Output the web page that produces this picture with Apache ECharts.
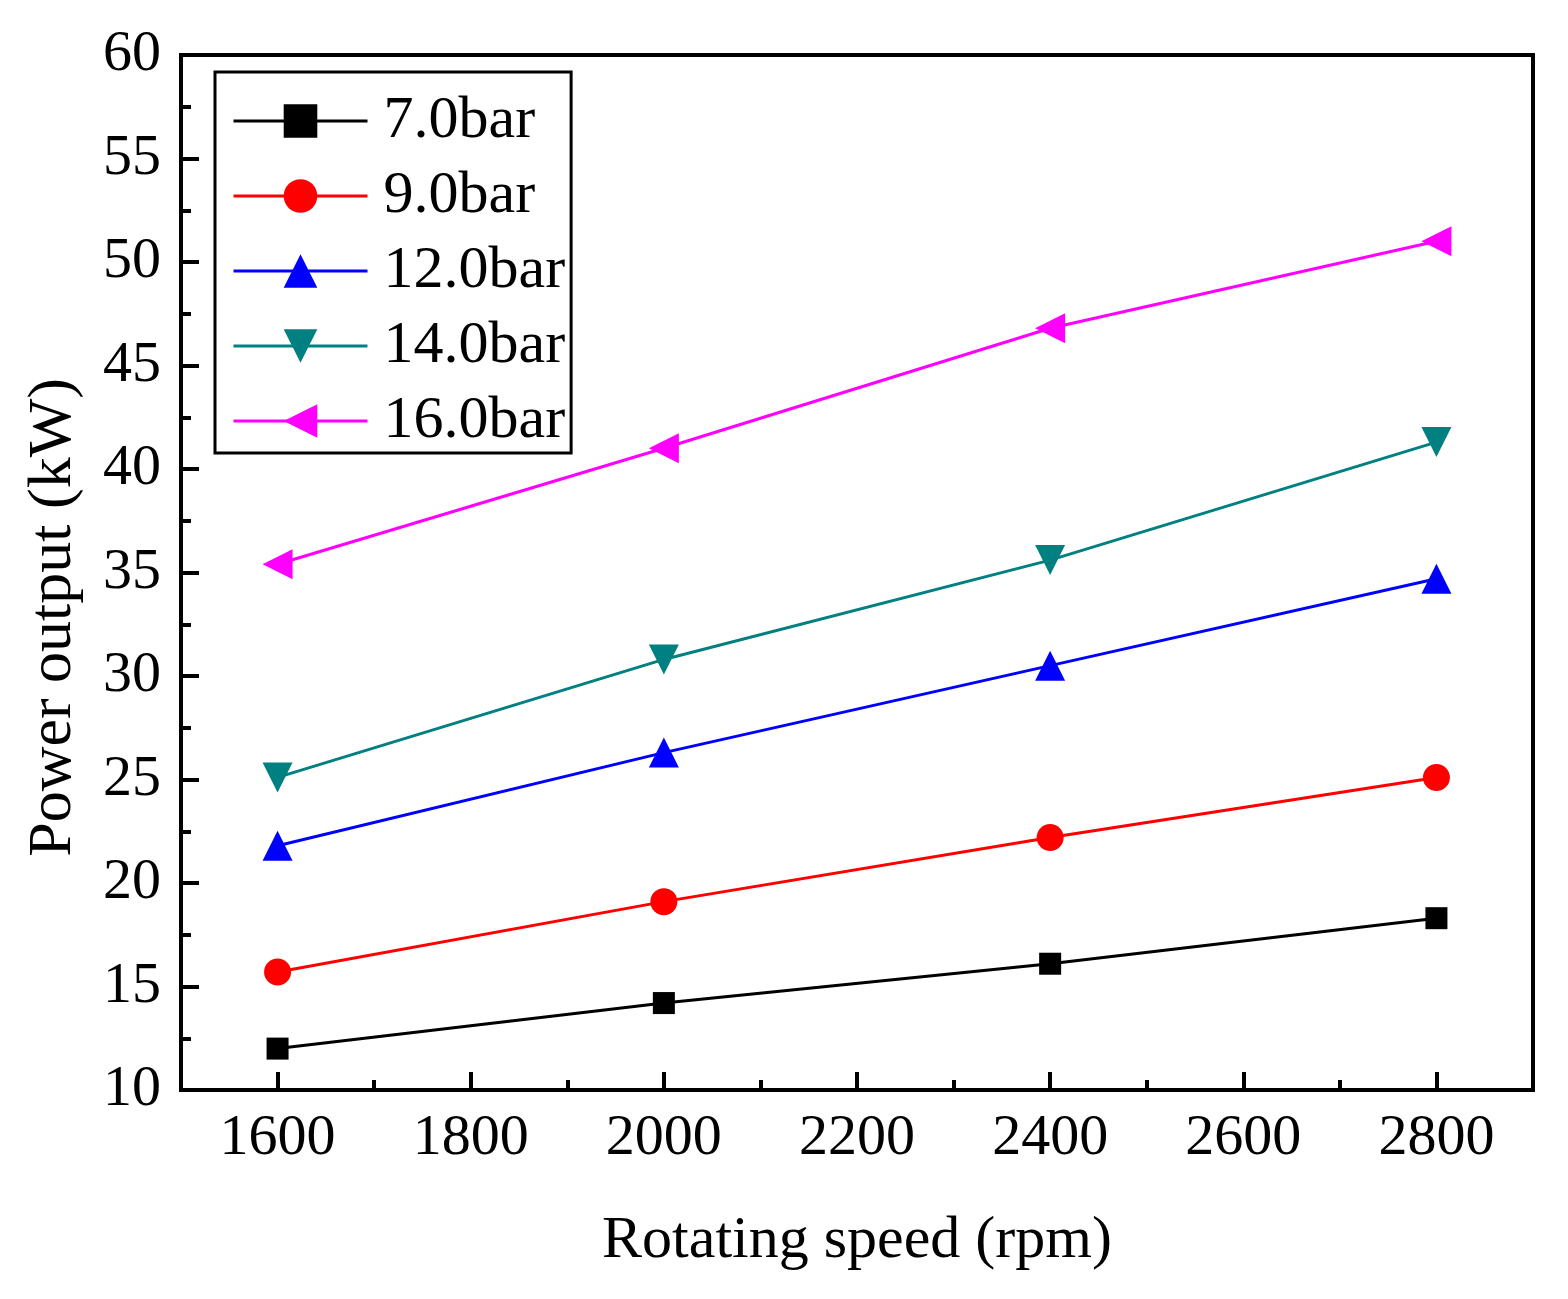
<!DOCTYPE html>
<html>
<head>
<meta charset="utf-8">
<script src="https://cdn.jsdelivr.net/npm/echarts@6/dist/echarts.min.js"></script>
<style>
  html, body { margin: 0; padding: 0; background: #fff; }
  #chart { width: 1568px; height: 1299px; }
</style>
</head>
<body>
<div id="chart"></div>
<script>
const speeds = [1600, 2000, 2400, 2800]
const p7 = [12.0, 14.2, 16.1, 18.3]
const p9 = [15.7, 19.1, 22.2, 25.1]
const p12 = [21.8, 26.3, 30.5, 34.7]
const p14 = [25.1, 30.8, 35.6, 41.3]
const p16 = [35.4, 41.0, 46.8, 51.0]
const xMajor = [1600, 1800, 2000, 2200, 2400, 2600, 2800]
const xMinor = [1700, 1900, 2100, 2300, 2500, 2700]

const font = 'Liberation Serif'
const pts = arr => speeds.map((s, i) => [s, arr[i]])

const myChart = echarts.init(document.getElementById('chart'))

const mkSeries = (name, arr, color, symbol, size, rotate) => ({
  name: name,
  type: 'line',
  data: pts(arr),
  symbol: symbol,
  symbolSize: size,
  symbolRotate: rotate,
  lineStyle: { color: color, width: 3 },
  itemStyle: { color: color },
  animation: false
})

let option = {
  backgroundColor: '#fff',
  grid: {
    left: 181,
    right: 35,
    top: 55,
    bottom: 209,
    show: true,
    borderColor: '#000',
    borderWidth: 4
  },
  legend: {
    left: 215,
    top: 72,
    orient: 'vertical',
    padding: [19, 6, 2, 17],
    itemWidth: 134,
    itemHeight: 42,
    itemGap: 15,
    borderColor: '#000',
    borderWidth: 3,
    lineStyle: { width: 3 },
    textStyle: {
      fontFamily: font,
      fontSize: 60,
      color: '#000',
      padding: [0, 0, 0, 11]
    },
    data: ['7.0bar', '9.0bar', '12.0bar', '14.0bar', '16.0bar']
  },
  xAxis: [
    {
      type: 'value',
      min: 1500,
      max: 2900,
      interval: 100,
      position: 'bottom',
      name: 'Rotating speed (rpm)',
      nameLocation: 'middle',
      nameGap: 121,
      nameTextStyle: { fontFamily: font, fontSize: 60, color: '#000' },
      axisLine: { show: true, lineStyle: { color: '#000', width: 4 } },
      axisTick: {
        show: true,
        inside: true,
        length: 18,
        customValues: xMajor,
        lineStyle: { color: '#000', width: 4 }
      },
      axisLabel: {
        customValues: xMajor,
        formatter: v => String(v),
        margin: 20,
        fontFamily: font,
        fontSize: 58,
        color: '#000'
      },
      splitLine: { show: false }
    },
    {
      type: 'value',
      min: 1500,
      max: 2900,
      interval: 100,
      position: 'bottom',
      offset: 0,
      axisLine: { show: false },
      axisTick: {
        show: true,
        inside: true,
        length: 10,
        customValues: xMinor,
        lineStyle: { color: '#000', width: 4 }
      },
      axisLabel: { show: false },
      splitLine: { show: false }
    }
  ],
  yAxis: {
    type: 'value',
    min: 10,
    max: 60,
    interval: 5,
    name: 'Power output (kW)',
    nameLocation: 'middle',
    nameGap: 96,
    nameTextStyle: {
      fontFamily: font,
      fontSize: 62,
      color: '#000',
      padding: [0, 90, 0, 0]
    },
    axisLine: { show: true, lineStyle: { color: '#000', width: 4 } },
    axisTick: {
      show: true,
      inside: true,
      length: 18,
      lineStyle: { color: '#000', width: 4 }
    },
    minorTick: {
      show: true,
      splitNumber: 2,
      length: 10,
      lineStyle: { color: '#000', width: 4 }
    },
    axisLabel: {
      margin: 20,
      fontFamily: font,
      fontSize: 58,
      color: '#000'
    },
    splitLine: { show: false },
    minorSplitLine: { show: false }
  },
  series: [
    mkSeries('7.0bar', p7, '#000000', 'rect', 22, 0),
    mkSeries('9.0bar', p9, '#ff0000', 'circle', 27, 0),
    mkSeries('12.0bar', p12, '#0000ff', 'triangle', 30, 0),
    mkSeries('14.0bar', p14, '#008080', 'triangle', 30, 180),
    mkSeries('16.0bar', p16, '#ff00ff', 'triangle', 30, 90)
  ]
}
myChart.setOption(option)
</script>
</body>
</html>
